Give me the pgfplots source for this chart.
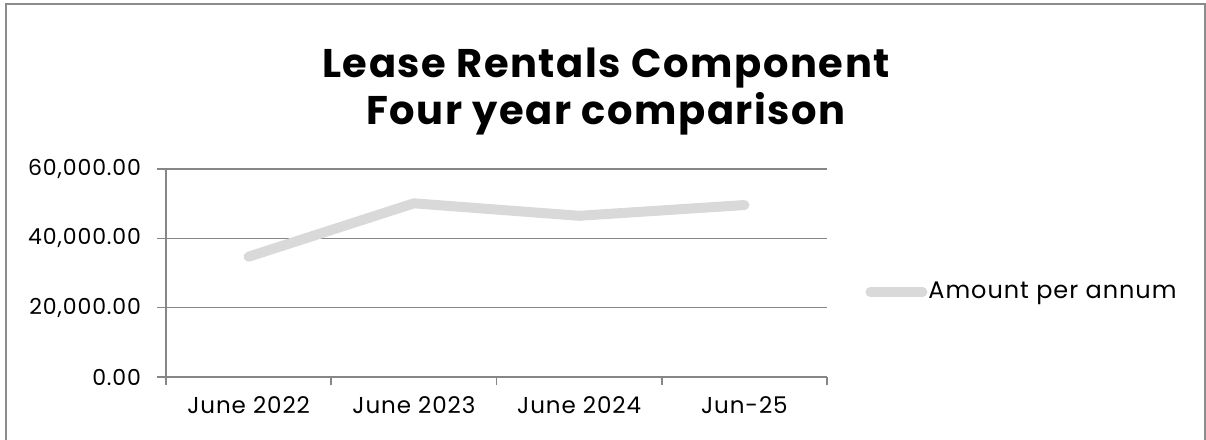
\documentclass[border=0pt]{standalone}
\usepackage{fontspec}
\setmainfont{Poppins}[LetterSpace=4]
\usepackage{pgfplots}
\pgfplotsset{compat=1.18}
\definecolor{serieslight}{RGB}{217,217,217}
\definecolor{gridgray}{RGB}{134,134,134}
\definecolor{framegray}{RGB}{140,140,140}
\begin{document}
\begin{tikzpicture}
\useasboundingbox (0,0) rectangle (603bp,220bp);
\draw[framegray, line width=1.2bp] (3bp,-5bp) rectangle (602.5bp,218bp);
\begin{axis}[
    at={(83bp,31.5bp)}, anchor=south west,
    scale only axis,
    width=330.5bp, height=104bp,
    xmin=-0.5, xmax=3.5,
    ymin=0, ymax=60000,
    ytick={0,20000,40000,60000},
    scaled y ticks=false,
    xtick={0,1,2,3},
    xticklabels={June 2022, June 2023, June 2024, Jun-25},
    minor xtick={-0.5,0.5,1.5,2.5,3.5},
    major x tick style={draw=none},
    minor tick length=4bp,
    major tick length=4.5bp,
    tick align=outside,
    tick style={gridgray, line width=0.8bp},
    axis lines*=left,
    axis line style={gridgray, line width=0.8bp},
    ymajorgrids,
    grid style={gridgray, line width=0.8bp},
    y tick label style={/pgf/number format/fixed, /pgf/number format/fixed zerofill,
        /pgf/number format/precision=2, /pgf/number format/1000 sep={,}},
    /pgf/number format/assume math mode=true,
    tick label style={font=\fontsize{11.5bp}{13bp}\selectfont, black},
    yticklabel style={font=\fontsize{11bp}{13bp}\selectfont, xshift=-4.5bp},
    xticklabel style={yshift=-2bp},
    legend style={at={(1.0575,0.409)}, anchor=west, draw=none, fill=none,
        font=\fontsize{12bp}{14bp}\selectfont, inner sep=0pt,
        nodes={inner sep=0.5bp}},
    legend image code/.code={\draw[#1, line cap=round] (0bp,0bp) -- (26bp,0bp);},
    clip=false,
]
\addplot[serieslight, line width=5bp, line cap=round, line join=round] coordinates {
    (0,34700) (1,50100) (2,46500) (3,49600)
};
\addlegendentry{Amount per annum}
\end{axis}
\node[anchor=base, font=\fontsize{20bp}{24bp}\selectfont\bfseries] at (303bp,181.2bp) {Lease Rentals Component};
\node[anchor=base, font=\fontsize{20bp}{24bp}\selectfont\bfseries] at (303bp,157.5bp) {Four year comparison};
\end{tikzpicture}
\end{document}
